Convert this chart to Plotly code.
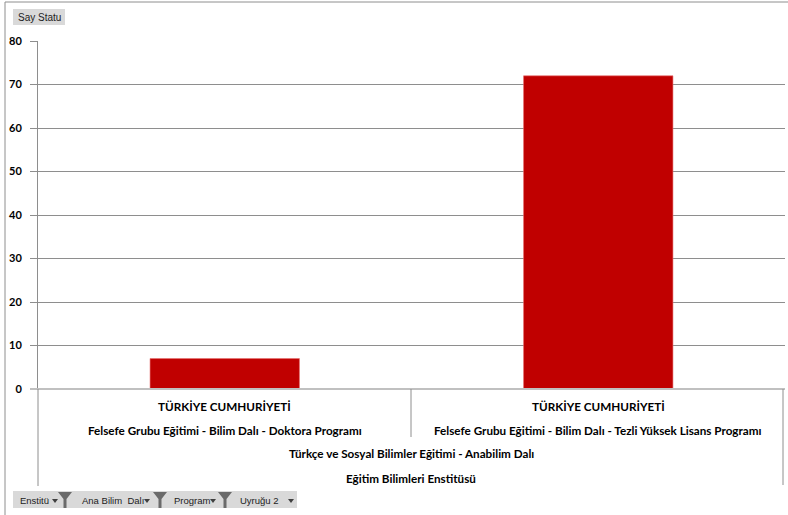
import plotly.graph_objects as go

# ---- data ----
categories = ["Felsefe Grubu Eğitimi - Bilim Dalı - Doktora Programı",
              "Felsefe Grubu Eğitimi - Bilim Dalı - Tezli Yüksek Lisans Programı"]
country_labels = ["TÜRKİYE CUMHURİYETİ", "TÜRKİYE CUMHURİYETİ"]
dept_label = "Türkçe ve Sosyal Bilimler Eğitimi - Anabilim Dalı"
inst_label = "Eğitim Bilimleri Enstitüsü"
values = [7, 72]
y_ticks = [0, 10, 20, 30, 40, 50, 60, 70, 80]
series_button = "Say Statu"
filter_fields = ["Enstitü", "Ana Bilim  Dalı", "Program", "Uyruğu 2"]

W, H = 788, 515
L, R, T, B = 38, 785, 41, 389  # plot area in pixels


def px(x):
    return (x - L) / (R - L)


def py(y):
    return (B - y) / (B - T)


FONT = "Lato, Carlito, Calibri, sans-serif"
BTN_FONT = "Liberation Sans, Arial, sans-serif"
CAT_SIZE = 11.7
BTN_SIZE = 9.5

xs = list(range(len(categories)))
fig = go.Figure(go.Bar(
    x=xs, y=values, width=0.4,
    marker=dict(color="#C00000", line=dict(color="#e87070", width=0.6)),
    hoverinfo="y",
))

fig.update_layout(
    width=W, height=H,
    margin=dict(l=L, r=W - R, t=T, b=H - B, pad=0),
    paper_bgcolor="white", plot_bgcolor="white",
    showlegend=False,
    font=dict(family=FONT, color="black"),
    xaxis=dict(range=[-0.5, len(categories) - 0.5], showticklabels=False,
               showgrid=False, zeroline=False, showline=False, fixedrange=True),
    yaxis=dict(range=[0, 80], tickvals=y_ticks, ticktext=[str(v) for v in y_ticks],
               showgrid=True, gridcolor="#8e8e8e", gridwidth=1,
               zeroline=False, showline=True, linecolor="#8e8e8e", linewidth=1,
               ticks="outside", ticklen=7, tickcolor="#8e8e8e",
               ticklabelstandoff=6,
               tickfont=dict(family=FONT, size=11, color="black", weight="bold"),
               fixedrange=True),
)

shapes = []
# zero line (light gray, thicker)
shapes.append(dict(type="line", xref="paper", yref="paper", x0=px(30), x1=1, y0=0, y1=0,
                   line=dict(color="#c0c0c0", width=2), layer="above"))
# category table lines
shapes.append(dict(type="line", xref="paper", yref="paper", x0=0, x1=0, y0=0, y1=py(486),
                   line=dict(color="#8e8e8e", width=1)))
shapes.append(dict(type="line", xref="paper", yref="paper", x0=px(411), x1=px(411), y0=0, y1=py(437),
                   line=dict(color="#8e8e8e", width=1)))
shapes.append(dict(type="line", xref="paper", yref="paper", x0=px(783), x1=px(783), y0=0, y1=py(485),
                   line=dict(color="#8e8e8e", width=1)))
# outer chart border (top, left)
shapes.append(dict(type="line", xref="paper", yref="paper", x0=px(5), x1=px(790), y0=py(2), y1=py(2),
                   line=dict(color="#8e8e8e", width=1)))
shapes.append(dict(type="line", xref="paper", yref="paper", x0=px(5), x1=px(5), y0=py(2), y1=py(520),
                   line=dict(color="#8e8e8e", width=1)))
# series button
shapes.append(dict(type="rect", xref="paper", yref="paper", x0=px(13), x1=px(65), y0=py(9), y1=py(25),
                   fillcolor="#d9d9d9", line=dict(width=0)))
# filter bar
shapes.append(dict(type="rect", xref="paper", yref="paper", x0=px(13), x1=px(297), y0=py(491), y1=py(508),
                   fillcolor="#d9d9d9", line=dict(width=0)))

annotations = []
annotations.append(dict(x=px(39), y=py(17), xref="paper", yref="paper", text=series_button,
                        showarrow=False, font=dict(family=BTN_FONT, size=BTN_SIZE + 0.5, color="#222"),
                        xanchor="center", yanchor="middle"))

# filter field labels, arrows, funnels
label_starts = [18, 80, 172, 238]
arrow_x = [55, 147, 213, 291]
funnel_x = [58, 153, 218]
for name, lx in zip(filter_fields, label_starts):
    annotations.append(dict(x=px(lx), y=py(500), xref="paper", yref="paper",
                            text=name.replace("  ", " \u00a0"),
                            showarrow=False, font=dict(family=BTN_FONT, size=BTN_SIZE, color="#222"),
                            xanchor="left", yanchor="middle"))
for ax in arrow_x:
    path = (f"M {px(ax-3)},{py(499)} L {px(ax+3)},{py(499)} L {px(ax)},{py(503)} Z")
    shapes.append(dict(type="path", xref="paper", yref="paper", path=path,
                       fillcolor="#404040", line=dict(width=0)))
for fx in funnel_x:
    path = (f"M {px(fx)},{py(492)} L {px(fx+14)},{py(492)} L {px(fx+8.5)},{py(499)} "
            f"L {px(fx+8.5)},{py(508)} L {px(fx+5.5)},{py(508)} L {px(fx+5.5)},{py(499)} Z")
    shapes.append(dict(type="path", xref="paper", yref="paper", path=path,
                       fillcolor="#6a6a6a", line=dict(width=0)))

# category labels
for i, (c, cat) in enumerate(zip(country_labels, categories)):
    annotations.append(dict(x=i, y=py(406), xref="x", yref="paper", text=c, showarrow=False,
                            font=dict(family=FONT, size=CAT_SIZE, color="black", weight="bold"),
                            xanchor="center", yanchor="middle"))
    annotations.append(dict(x=i, y=py(430), xref="x", yref="paper", text=cat, showarrow=False,
                            font=dict(family=FONT, size=CAT_SIZE, color="black", weight="bold"),
                            xanchor="center", yanchor="middle"))
annotations.append(dict(x=px(411), y=py(453), xref="paper", yref="paper", text=dept_label, showarrow=False,
                        font=dict(family=FONT, size=CAT_SIZE, color="black", weight="bold"),
                        xanchor="center", yanchor="middle"))
annotations.append(dict(x=px(411), y=py(478), xref="paper", yref="paper", text=inst_label, showarrow=False,
                        font=dict(family=FONT, size=CAT_SIZE, color="black", weight="bold"),
                        xanchor="center", yanchor="middle"))

fig.update_layout(shapes=shapes, annotations=annotations)
fig.write_html("out.html", config={"displayModeBar": False},
               post_script="document.body.style.margin='0';")
